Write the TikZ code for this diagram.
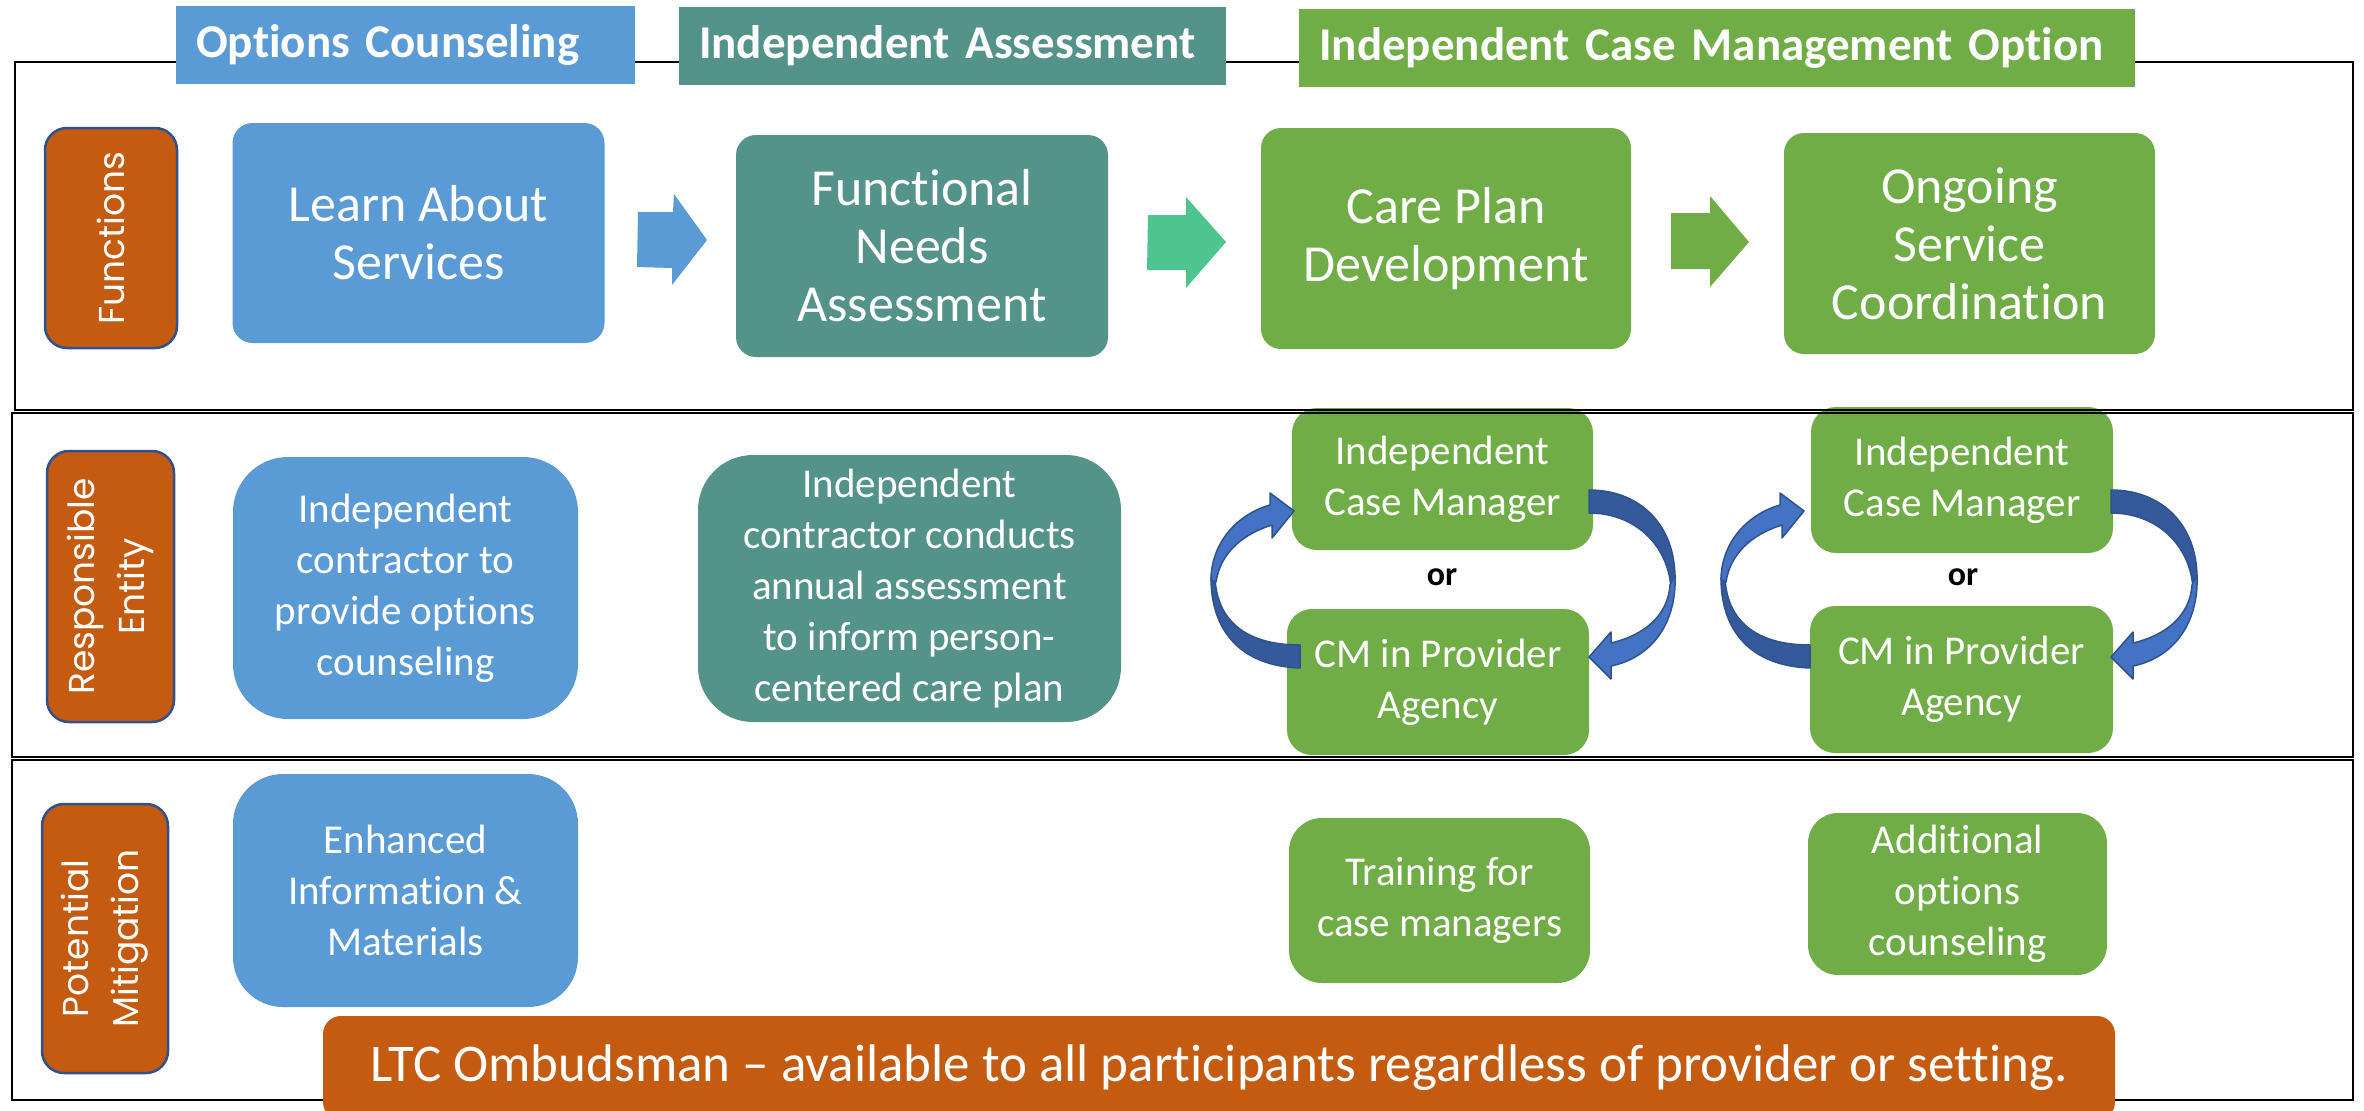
\documentclass[tikz,border=0pt]{standalone}
\usepackage{fontspec}
\setmainfont{Carlito}[Ligatures=NoCommon]
\newfontfamily\sidefont{Poppins}
\definecolor{ocblue}{HTML}{5B9BD5}
\definecolor{iateal}{HTML}{54938A}
\definecolor{cmgreen}{HTML}{70AD47}
\definecolor{orng}{HTML}{C55A11}
\definecolor{arrteal}{HTML}{4EC48F}
\definecolor{carr}{HTML}{4472C4}
\definecolor{carrdk}{HTML}{345A9C}
\definecolor{carrline}{HTML}{2F528F}
\tikzset{
  box/.style={rectangle, rounded corners=20, text=white, align=center, inner sep=0pt},
  bigtxt/.style={font=\fontsize{52}{58}\selectfont},
  smtxt/.style={font=\fontsize{41}{51}\selectfont},
  hdr/.style={rectangle, text=white, align=left, inner xsep=20, inner ysep=0pt,
    minimum height=78, font=\bfseries\fontsize{47}{56}\selectfont},
  sidelab/.style={rectangle, rounded corners=22, fill=orng, draw=carrline, line width=2.5,
    text=white, align=center, inner sep=0pt, rotate=90,
    font=\sidefont\fontsize{36}{50}\selectfont},
  frame/.style={draw=black, line width=2.5},
  orword/.style={font=\bfseries\fontsize{34}{40}\selectfont, text=black, inner sep=0pt},
  curv/.style={fill=carr, draw=carrline, line width=1.5, line join=round},
  curvdk/.style={fill=carrdk, draw=carrline, line width=1.5, line join=round},
}
\begin{document}
\begin{tikzpicture}[x=1pt,y=-1pt]
\useasboundingbox (0,0) rectangle (2364,1111);
\clip (0,0) rectangle (2364,1111);

% ---------- Row 1 boxes ----------
\node[box, bigtxt, fill=ocblue, minimum width=372, minimum height=220] (learn) at (418.5,233) {Learn About\\Services};
\node[box, bigtxt, fill=iateal, minimum width=372, minimum height=222] (fna) at (922,246) {Functional\\Needs\\Assessment};
\node[box, bigtxt, fill=cmgreen, minimum width=370, minimum height=221] (care) at (1446,238.5) {Care Plan\\Development};
\node[box, bigtxt, fill=cmgreen, minimum width=371, minimum height=221] (ongoing) at (1969.5,243.5) {Ongoing\\Service\\Coordination};

% block arrows
\fill[ocblue] (638,212) -- (673,212) -- (674,194) -- (707,240) -- (672,285) -- (672,268) -- (637,267) -- cycle;
\fill[arrteal] (1148,215) -- (1186,215) -- (1186,197) -- (1226,242) -- (1186,288) -- (1186,270) -- (1147,270) -- cycle;
\fill[cmgreen] (1671,213) -- (1710,213) -- (1710,196) -- (1749,242) -- (1710,287) -- (1710,269) -- (1671,269) -- cycle;

% ---------- Row 2 boxes ----------
\node[box, smtxt, rounded corners=55, fill=ocblue, minimum width=345, minimum height=262] (ocent) at (405.5,588) {Independent\\contractor to\\provide options\\counseling};
\node[box, smtxt, rounded corners=55, fill=iateal, minimum width=423, minimum height=267] (iaent) at (909.5,588.5) {Independent\\contractor conducts\\annual assessment\\to inform person-\\centered care plan};
\node[box, smtxt, rounded corners=25, fill=cmgreen, minimum width=301, minimum height=142] (icma) at (1442.5,479) {Independent\\Case Manager};
\node[box, smtxt, rounded corners=25, fill=cmgreen, minimum width=302, minimum height=146] (cma) at (1438,682) {CM in Provider\\Agency};
\node[orword] (ora) at (1442,577) {or};
\node[box, smtxt, rounded corners=25, fill=cmgreen, minimum width=302, minimum height=146] (icmb) at (1962,480) {Independent\\Case Manager};
\node[box, smtxt, rounded corners=25, fill=cmgreen, minimum width=303, minimum height=147] (cmb) at (1961.5,679.5) {CM in Provider\\Agency};
\node[orword] (orb) at (1963,577) {or};

% curved arrows: left (CM -> ICM) and right (ICM -> CM)
\foreach \dx/\ex in {0/0, 510/522}{
  \begin{scope}[xshift=\dx]
    \path[curvdk] (1300,668) .. controls (1240,666) and (1211,630) .. (1211,578)
      -- (1215,578) .. controls (1217,620) and (1245,645) .. (1300,645) -- cycle;
    \path[curv] (1211,580) .. controls (1211,545) and (1235,515) .. (1270,505)
      -- (1270,493) -- (1294,511) -- (1272,538) -- (1272,525)
      .. controls (1240,535) and (1220,555) .. (1216,582) -- cycle;
  \end{scope}
  \begin{scope}[xshift=\ex]
    \path[curvdk] (1589,490) .. controls (1640,490) and (1675,525) .. (1675,578)
      -- (1671,588) .. controls (1668,545) and (1635,513) .. (1589,513) -- cycle;
    \path[curv] (1675,575) .. controls (1677,625) and (1650,658) .. (1611,666)
      -- (1611,679) -- (1589,657) -- (1611,632) -- (1611,643)
      .. controls (1645,635) and (1668,615) .. (1670,585) -- cycle;
  \end{scope}
}

% ---------- Row 3 boxes ----------
\node[box, smtxt, rounded corners=50, fill=ocblue, minimum width=345, minimum height=233] (enh) at (405.5,890.5) {Enhanced\\Information \&\\Materials};
\node[box, smtxt, rounded corners=33, fill=cmgreen, minimum width=301, minimum height=165] (train) at (1439.5,900.5) {Training for\\case managers};
\node[box, smtxt, rounded corners=30, fill=cmgreen, minimum width=299, minimum height=162] (addl) at (1957.5,894) {Additional\\options\\counseling};

% ---------- frames ----------
\draw[frame] (15,62) rectangle (2353,410);
\draw[frame] (12,413) rectangle (2353,757);
\draw[frame] (12,760) rectangle (2353,1100);

% ---------- headers ----------
\node[hdr, fill=ocblue, anchor=north west, text width=419] (hoc) at (176,6) {Options Counseling};
\node[hdr, fill=iateal, anchor=north west, text width=507] (hia) at (679,7) {Independent Assessment};
\node[hdr, fill=cmgreen, anchor=north west, text width=796] (hicm) at (1299,9) {Independent Case Management Option};

% ---------- side labels ----------
\node[sidelab, minimum width=220, minimum height=132] (lfun) at (111,238) {Functions};
\node[sidelab, minimum width=271, minimum height=127] (lres) at (110.5,586.5) {Responsible\\Entity};
\node[sidelab, minimum width=269, minimum height=126] (lmit) at (105,938.5) {Potential\\Mitigation};

% ---------- ombudsman bar ----------
\node[box, font=\fontsize{53}{58}\selectfont, rounded corners=18, fill=orng, minimum width=1792, minimum height=104] (omb) at (1219,1068) {LTC Ombudsman – available to all participants regardless of provider or setting.};
\end{tikzpicture}
\end{document}
